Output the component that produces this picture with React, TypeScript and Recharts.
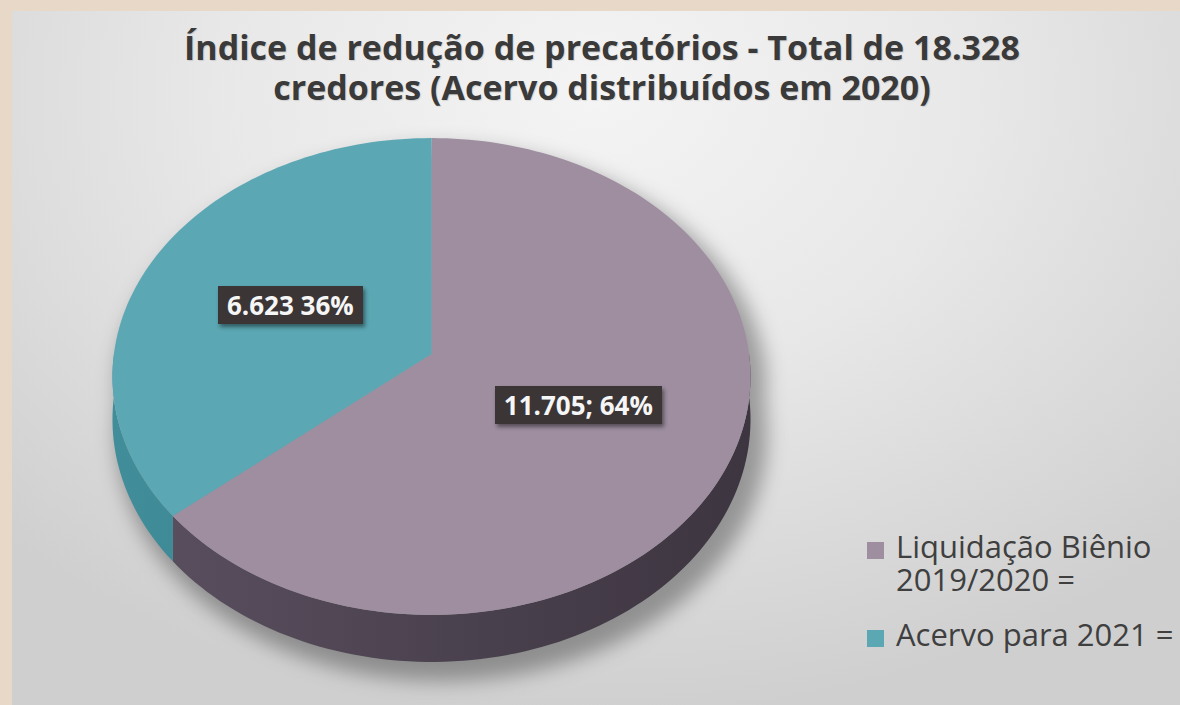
import React from 'react';
import { PieChart, Pie, Cell, Legend } from 'recharts';

const categories = ['Liquidação Biênio 2019/2020 =', 'Acervo para 2021 ='];
const values = [11705, 6623];
const sliceLabels = ['11.705; 64%', '6.623 36%'];
const topColors = ['#9e8ea0', '#5ba7b3'];
const sideLight = ['#5b5060', '#418d9a'];
const sideDark = ['#3d3540', '#2f6f7a'];
const titleLines = [
  'Índice de redução de precatórios - Total de 18.328',
  'credores (Acervo distribuídos em 2020)',
];

const data = categories.map((name, i) => ({ name, value: values[i] }));

const TILT = -0.0943;
const VSCALE = 0.744;
const DEPTH = 42.6;
const FONT = '"Open Sans", "DejaVu Sans", sans-serif';

function project(cx: number, cy: number, r: number, angleDeg: number, f = 1) {
  const a = (angleDeg * Math.PI) / 180;
  const u = f * Math.cos(a);
  const t = -f * Math.sin(a);
  const d = 1 + TILT * t;
  return { x: cx + (r * u) / d, y: cy + (r * VSCALE * t) / d, d };
}

function arcPoints(cx: number, cy: number, r: number, from: number, to: number, drop = false) {
  const n = Math.max(2, Math.ceil(Math.abs(to - from) / 1.5));
  const pts: number[][] = [];
  for (let i = 0; i <= n; i++) {
    const ang = from + ((to - from) * i) / n;
    const p = project(cx, cy, r, ang);
    pts.push([p.x, drop ? p.y + DEPTH / p.d : p.y]);
  }
  return pts;
}

const toPath = (pts: number[][]) =>
  pts.map((p, i) => `${i ? 'L' : 'M'}${p[0].toFixed(2)},${p[1].toFixed(2)}`).join('') + 'Z';

function frontIntervals(a: number, b: number) {
  const res: number[][] = [];
  for (let k = -2; k <= 1; k++) {
    const lo = Math.max(a, -180 + 360 * k);
    const hi = Math.min(b, 360 * k);
    if (hi > lo) res.push([lo, hi]);
  }
  return res;
}

const renderSlice = (props: any) => {
  const { cx, cy, outerRadius: r, startAngle, endAngle, index } = props;
  const lo = Math.min(startAngle, endAngle);
  const hi = Math.max(startAngle, endAngle);
  const sides = frontIntervals(lo, hi).map(([l, h], k) => {
    const top = arcPoints(cx, cy, r, h, l);
    const bottom = arcPoints(cx, cy, r, l, h, true);
    return <path key={`s${k}`} d={toPath([...top, ...bottom])} fill={`url(#side-${index})`} />;
  });
  const topPts = [[cx, cy], ...arcPoints(cx, cy, r, startAngle, endAngle)];
  let shadow = null;
  if (index === 0) {
    const outline = [...arcPoints(cx, cy, r * 1.02, 0, 180), ...arcPoints(cx, cy, r * 1.02, 180, 360, true)];
    shadow = (
      <g>
        <defs>
          <filter id="pieShadow" x="-20%" y="-20%" width="140%" height="140%">
            <feGaussianBlur stdDeviation="10" />
          </filter>
        </defs>
        <path d={toPath(outline)} fill="#000" fillOpacity={0.33} filter="url(#pieShadow)" transform="translate(10,14)" />
      </g>
    );
  }
  const lp = project(cx, cy, r, (startAngle + endAngle) / 2, 0.5);
  return (
    <g key={`slice-${index}`}>
      <defs>
        <linearGradient id={`side-${index}`} gradientUnits="userSpaceOnUse" x1={cx - r} y1={0} x2={cx + r} y2={0}>
          <stop offset="0%" stopColor={sideLight[index]} />
          <stop offset="100%" stopColor={sideDark[index]} />
        </linearGradient>
      </defs>
      {shadow}
      {sides}
      <path d={toPath(topPts)} fill={topColors[index]} />
      <foreignObject x={lp.x - 150} y={lp.y - 30} width={300} height={60}>
        <div style={{ width: 300, height: 60, display: 'flex', alignItems: 'center', justifyContent: 'center' }}>
          <span
            style={{
              background: '#3b3536',
              color: '#f6f6f6',
              fontFamily: FONT,
              fontWeight: 700,
              fontSize: 26,
              lineHeight: '30px',
              padding: '4px 9px',
              boxShadow: '2px 3px 4px rgba(0,0,0,0.45)',
              whiteSpace: 'nowrap',
            }}
          >
            {sliceLabels[index]}
          </span>
        </div>
      </foreignObject>
    </g>
  );
};

const renderLegend = () => (
  <div style={{ fontFamily: FONT, fontSize: 31, color: '#3f3f3f', lineHeight: '33px', width: 345, textAlign: 'left' }}>
    {categories.map((name, i) => (
      <div key={i} style={{ display: 'flex', alignItems: 'flex-start', marginBottom: 22 }}>
        <span style={{ width: 17, height: 17, background: topColors[i], marginTop: 12, marginRight: 12, flex: 'none' }} />
        <span>{name}</span>
      </div>
    ))}
  </div>
);

export default function App() {
  return (
    <div style={{ position: 'absolute', left: 0, top: 0, width: 1180, height: 705, background: '#e7d8c7', overflow: 'hidden' }}>
      <div
        style={{
          position: 'absolute',
          left: 12,
          top: 11,
          width: 1168,
          height: 694,
          background: 'radial-gradient(ellipse 72% 90% at 50% 12%, #f4f4f4 0%, #e8e8e8 45%, #cfcfcf 100%)',
        }}
      />
      <div
        style={{
          position: 'absolute',
          left: 0,
          top: 27,
          width: 1204,
          textAlign: 'center',
          fontFamily: FONT,
          fontWeight: 700,
          fontSize: 34,
          lineHeight: '40px',
          color: '#3a3a3a',
          textShadow: '1px 1px 1px rgba(0,0,0,0.12)',
        }}
      >
        {titleLines.map((l, i) => (
          <div key={i}>{l}</div>
        ))}
      </div>
      <div style={{ position: 'absolute', left: 0, top: 0 }}>
        <PieChart width={1180} height={705} margin={{ top: 0, right: 0, bottom: 0, left: 0 }}>
          <Pie
            data={data}
            dataKey="value"
            nameKey="name"
            cx={431.5}
            cy={354}
            outerRadius={317.6}
            startAngle={90}
            endAngle={-270}
            stroke="none"
            isAnimationActive={false}
            label={renderSlice}
            labelLine={false}
          >
            {data.map((d, i) => (
              <Cell key={i} fill={topColors[i]} fillOpacity={0} stroke="none" />
            ))}
          </Pie>
          <Legend
            layout="horizontal"
            verticalAlign="middle"
            align="center"
            content={renderLegend}
            wrapperStyle={{ left: 867, top: 530, width: 345 }}
          />
        </PieChart>
      </div>
    </div>
  );
}
